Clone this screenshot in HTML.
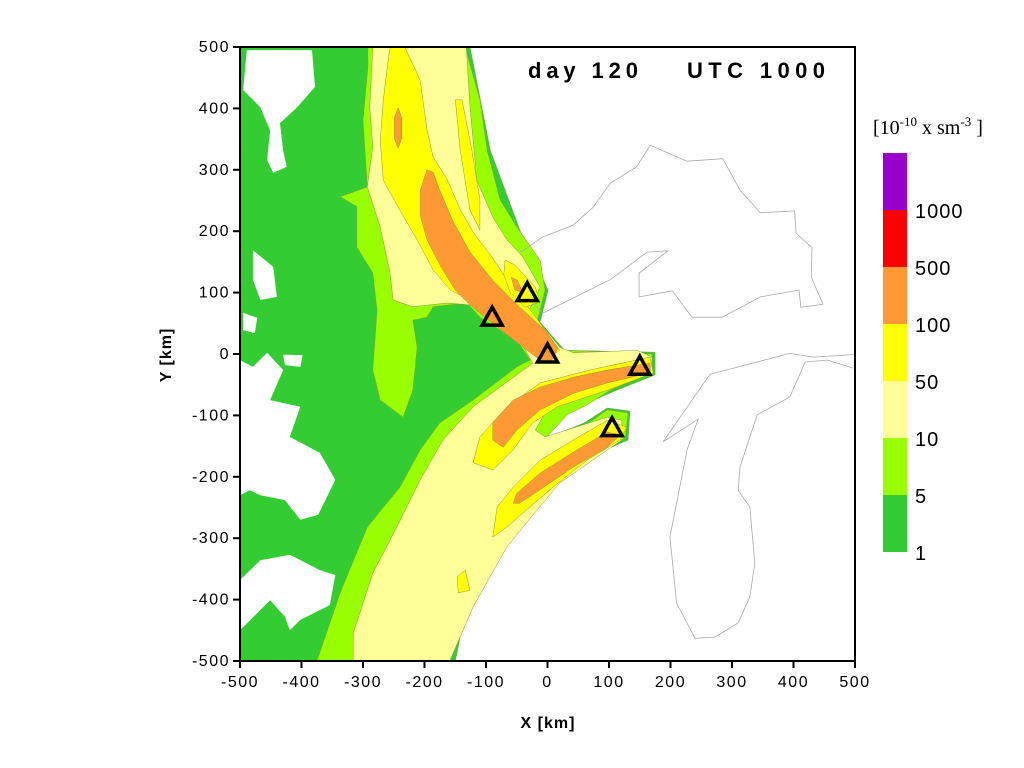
<!DOCTYPE html>
<html><head><meta charset="utf-8"><style>
html,body{margin:0;padding:0;background:#fff;width:1024px;height:768px;overflow:hidden}
svg text{font-family:"Liberation Sans",sans-serif}
</style></head><body>
<svg id="chart" width="1024" height="768" xmlns="http://www.w3.org/2000/svg">
<g id="plot"></g>
<g id="axes"></g>
<g id="cbar"></g>
<text x="528" y="78" font-size="22" font-weight="bold" textLength="110" lengthAdjust="spacing">day 120</text>
<text x="687" y="78" font-size="22" font-weight="bold" textLength="138" lengthAdjust="spacing">UTC 1000</text>
<text x="548" y="728" font-size="16" font-weight="bold" text-anchor="middle" letter-spacing="1">X [km]</text>
<text x="0" y="0" font-size="16" font-weight="bold" text-anchor="middle" letter-spacing="1" transform="translate(171,355) rotate(-90)">Y [km]</text>
<text x="873" y="134" font-size="20" style="font-family:'Liberation Serif',serif">[10<tspan dy="-8" font-size="13">-10</tspan><tspan dy="8"> x sm</tspan><tspan dy="-8" font-size="13">-3</tspan><tspan dy="8"> ]</tspan></text>
</svg>
<script>
const xTicks=[-500,-400,-300,-200,-100,0,100,200,300,400,500];
const yTicks=[-500,-400,-300,-200,-100,0,100,200,300,400,500];
const levelLabels=["1000","500","100","50","10","5","1"];
const levelColors=["#9900cc","#ff0000","#ff9933","#ffff00","#ffff99","#99ff00","#33cc33"];
const stationX=[-33,-90,0,150,105];
const stationY=[100,60,0,-20,-120];
const greenArea=[[-500,500],[-126,500],[-93,332],[-45,202],[1,104],[-12,52],[28,6],[175,3],[175,-34],[105,-62],[64,-80],[30,-96],[-3,-138],[60,-112],[97,-88],[134,-93],[131,-140],[20,-189],[-45,-254],[-126,-385],[-150,-500],[-500,-500]];
const holeA=[[-489,495],[-383,495],[-378,435],[-407,402],[-435,376],[-430,332],[-424,305],[-446,295],[-456,316],[-451,364],[-467,402],[-495,430]];
const holeB=[[-479,169],[-446,142],[-440,93],[-467,88],[-479,121]];
const holeC=[[-495,67],[-472,59],[-476,34],[-495,39]];
const holeD=[[-430,-1],[-398,-2],[-402,-21],[-427,-18]];
const holeE=[[-500,-10],[-479,-21],[-456,2],[-430,-26],[-451,-75],[-402,-86],[-419,-135],[-370,-161],[-345,-205],[-373,-262],[-402,-270],[-427,-238],[-467,-230],[-484,-222],[-500,-230]];
const holeF=[[-500,-368],[-467,-336],[-419,-327],[-370,-352],[-345,-360],[-354,-409],[-402,-433],[-419,-450],[-427,-428],[-451,-401],[-500,-450]];
const limeArea=[[-292,500],[-134,500],[-110,414],[-98,332],[-77,251],[-50,207],[-12,153],[-4,104],[-17,52],[24,6],[170,0],[170,-31],[102,-59],[64,-83],[32,-99],[-1,-135],[63,-115],[97,-91],[131,-96],[126,-137],[17,-186],[-48,-246],[-110,-336],[-142,-433],[-159,-500],[-375,-500],[-337,-389],[-293,-282],[-240,-217],[-207,-156],[-175,-112],[-121,-75],[-50,-21],[-28,-10],[-45,15],[-77,39],[-110,60],[-131,83],[-186,77],[-196,60],[-219,55],[-212,11],[-219,-59],[-235,-103],[-272,-75],[-284,-26],[-277,71],[-284,132],[-310,174],[-310,240],[-337,256],[-293,272],[-300,381],[-292,467]];
const lightArea=[[-284,500],[-132,500],[-126,402],[-115,283],[-89,223],[-66,186],[-40,158],[-12,109],[-24,83],[-33,67],[-12,50],[20,11],[42,2],[146,6],[170,-5],[170,-29],[150,-37],[42,-70],[-4,-96],[-20,-124],[-4,-135],[97,-103],[121,-108],[121,-140],[20,-210],[-40,-282],[-66,-314],[-121,-412],[-159,-500],[-316,-500],[-316,-455],[-284,-357],[-245,-282],[-207,-205],[-170,-140],[-121,-86],[-24,-15],[-45,23],[-77,47],[-126,80],[-163,83],[-219,77],[-251,88],[-256,132],[-272,207],[-293,272],[-284,337],[-289,402]];
const yellowNW=[[-256,500],[-232,500],[-207,446],[-196,365],[-186,321],[-163,284],[-142,235],[-118,194],[-93,162],[-71,129],[-45,96],[-4,39],[20,6],[1,-7],[-28,6],[-77,47],[-126,88],[-158,104],[-186,137],[-212,186],[-240,234],[-267,283],[-272,348],[-267,414],[-261,463]];
const yellowStripe=[[-150,414],[-139,414],[-123,332],[-110,251],[-110,202],[-126,234],[-142,332]];
const yellowNE=[[-69,153],[-53,145],[-20,109],[-12,85],[-37,76],[-61,101],[-71,129]];
const yellowE=[[-121,-177],[-110,-135],[-66,-86],[-12,-47],[69,-26],[167,-5],[172,-31],[97,-59],[16,-86],[-24,-112],[-56,-156],[-89,-189]];
const yellowSE=[[-89,-298],[-82,-249],[-56,-217],[-12,-173],[42,-140],[97,-108],[129,-119],[118,-140],[64,-173],[9,-217],[-40,-259],[-66,-282]];
const yellowBlob=[[-147,-363],[-134,-352],[-126,-385],[-145,-389]];
const orangeNW=[[-196,300],[-186,296],[-175,266],[-154,217],[-126,166],[-89,120],[-45,76],[-4,39],[17,10],[7,-10],[-12,-10],[-45,15],[-85,47],[-126,80],[-150,104],[-175,145],[-196,186],[-207,226],[-207,267]];
const orangeNE=[[-59,125],[-49,120],[-40,100],[-53,104]];
const orangeBlob=[[-243,401],[-237,385],[-237,351],[-243,335],[-249,351],[-249,385]];
const orangeE=[[-89,-140],[-89,-112],[-56,-75],[-12,-54],[42,-38],[97,-26],[167,-15],[167,-31],[97,-47],[42,-64],[-12,-91],[-50,-124],[-72,-152]];
const orangeSE=[[-56,-243],[-50,-227],[-12,-194],[42,-160],[97,-127],[118,-132],[97,-152],[42,-184],[-12,-221],[-45,-243]];
const coast1=[[-45,165],[-7,191],[42,210],[74,239],[102,278],[145,305],[167,340],[227,314],[285,318],[313,267],[346,230],[402,233],[404,197],[430,173],[429,125],[448,81],[412,76],[409,104],[346,93],[284,60],[235,60],[203,103],[149,93],[149,132],[196,168],[162,166],[102,121],[-7,67],[-24,83]];
const coast2=[[497,-1],[432,-5],[394,1],[264,-33],[188,-143],[245,-106],[227,-156],[199,-298],[210,-406],[240,-463],[272,-461],[310,-438],[329,-396],[337,-341],[329,-249],[310,-222],[313,-184],[341,-99],[394,-70],[419,-13],[455,-10],[497,-23]];

const X0=240,X1=855,Y0=661,Y1=47;
const sx=v=>X0+(v+500)/1000*(X1-X0);
const sy=v=>Y0-(v+500)/1000*(Y0-Y1);
const NS="http://www.w3.org/2000/svg";
function mk(tag,parent,attrs){const e=document.createElementNS(NS,tag);for(const k in attrs)e.setAttribute(k,attrs[k]);parent.appendChild(e);return e;}
const pts=a=>a.map(p=>sx(p[0]).toFixed(1)+","+sy(p[1]).toFixed(1)).join(" ");
const plot=document.getElementById('plot');
mk('rect',plot,{x:X0,y:Y1,width:X1-X0,height:Y0-Y1,fill:'#fff'});
const layers=[
 ['green-contour',greenArea,'#33cc33'],['hole-a',holeA,'#fff'],['hole-b',holeB,'#fff'],['hole-c',holeC,'#fff'],['hole-d',holeD,'#fff'],['hole-e',holeE,'#fff'],['hole-f',holeF,'#fff'],
 ['lime-contour',limeArea,'#99ff00'],['light-yellow-contour',lightArea,'#ffff99'],
 ['yellow-nw',yellowNW,'#ffff00'],['yellow-stripe',yellowStripe,'#ffff00'],['yellow-ne',yellowNE,'#ffff00'],['yellow-e',yellowE,'#ffff00'],['yellow-se',yellowSE,'#ffff00'],['yellow-blob',yellowBlob,'#ffff00'],
 ['orange-nw',orangeNW,'#ff9933'],['orange-ne',orangeNE,'#ff9933'],['orange-blob',orangeBlob,'#ff9933'],['orange-e',orangeE,'#ff9933'],['orange-se',orangeSE,'#ff9933']];
layers.forEach(l=>{
 const p=mk('polygon',plot,{points:pts(l[1]),fill:l[2],stroke:l[2]=='#fff'?'none':'#8a9a40','stroke-width':0.5});
 
 
});
[['coastline-upper',coast1],['coastline-lower',coast2]].forEach(c=>{
 const p=mk('polyline',plot,{points:pts(c[1]),fill:'none',stroke:'#aaa','stroke-width':0.8});
 
 
});
stationX.forEach((v,i)=>{
 const cx=sx(v),cy=sy(stationY[i]);
 const t=mk('polygon',plot,{points:`${cx},${cy-10} ${cx+10},${cy+8} ${cx-10},${cy+8}`,fill:'none',stroke:'#000','stroke-width':3.5,'stroke-linejoin':'miter'});
 
 
});
const axes=document.getElementById('axes');
mk('rect',axes,{x:X0,y:Y1,width:X1-X0,height:Y0-Y1,fill:'none',stroke:'#000','stroke-width':2});
xTicks.forEach(v=>{
 mk('line',axes,{x1:sx(v),x2:sx(v),y1:Y0,y2:Y0+7,stroke:'#000','stroke-width':2});
 const t=mk('text',axes,{x:sx(v),y:Y0+26,'font-size':16,'text-anchor':'middle','letter-spacing':1.5});
 t.textContent=v;
 
 
});
yTicks.forEach(v=>{
 mk('line',axes,{x1:X0-7,x2:X0,y1:sy(v),y2:sy(v),stroke:'#000','stroke-width':2});
 const t=mk('text',axes,{x:X0-10,y:sy(v)+5,'font-size':16,'text-anchor':'end','letter-spacing':1.5});
 t.textContent=v;
 
 
});
const cb=document.getElementById('cbar');
const cTop=153,cBot=552,segH=(cBot-cTop)/levelColors.length;
levelColors.forEach((c,i)=>{
 const r=mk('rect',cb,{x:883,y:cTop+i*segH,width:24,height:segH,fill:c});
 
 
});
levelLabels.forEach((s,i)=>{
 const t=mk('text',cb,{x:915,y:cTop+(i+1)*segH+8,'font-size':20,'letter-spacing':1});
 t.textContent=s;
 
 
});
</script>
</body></html>
